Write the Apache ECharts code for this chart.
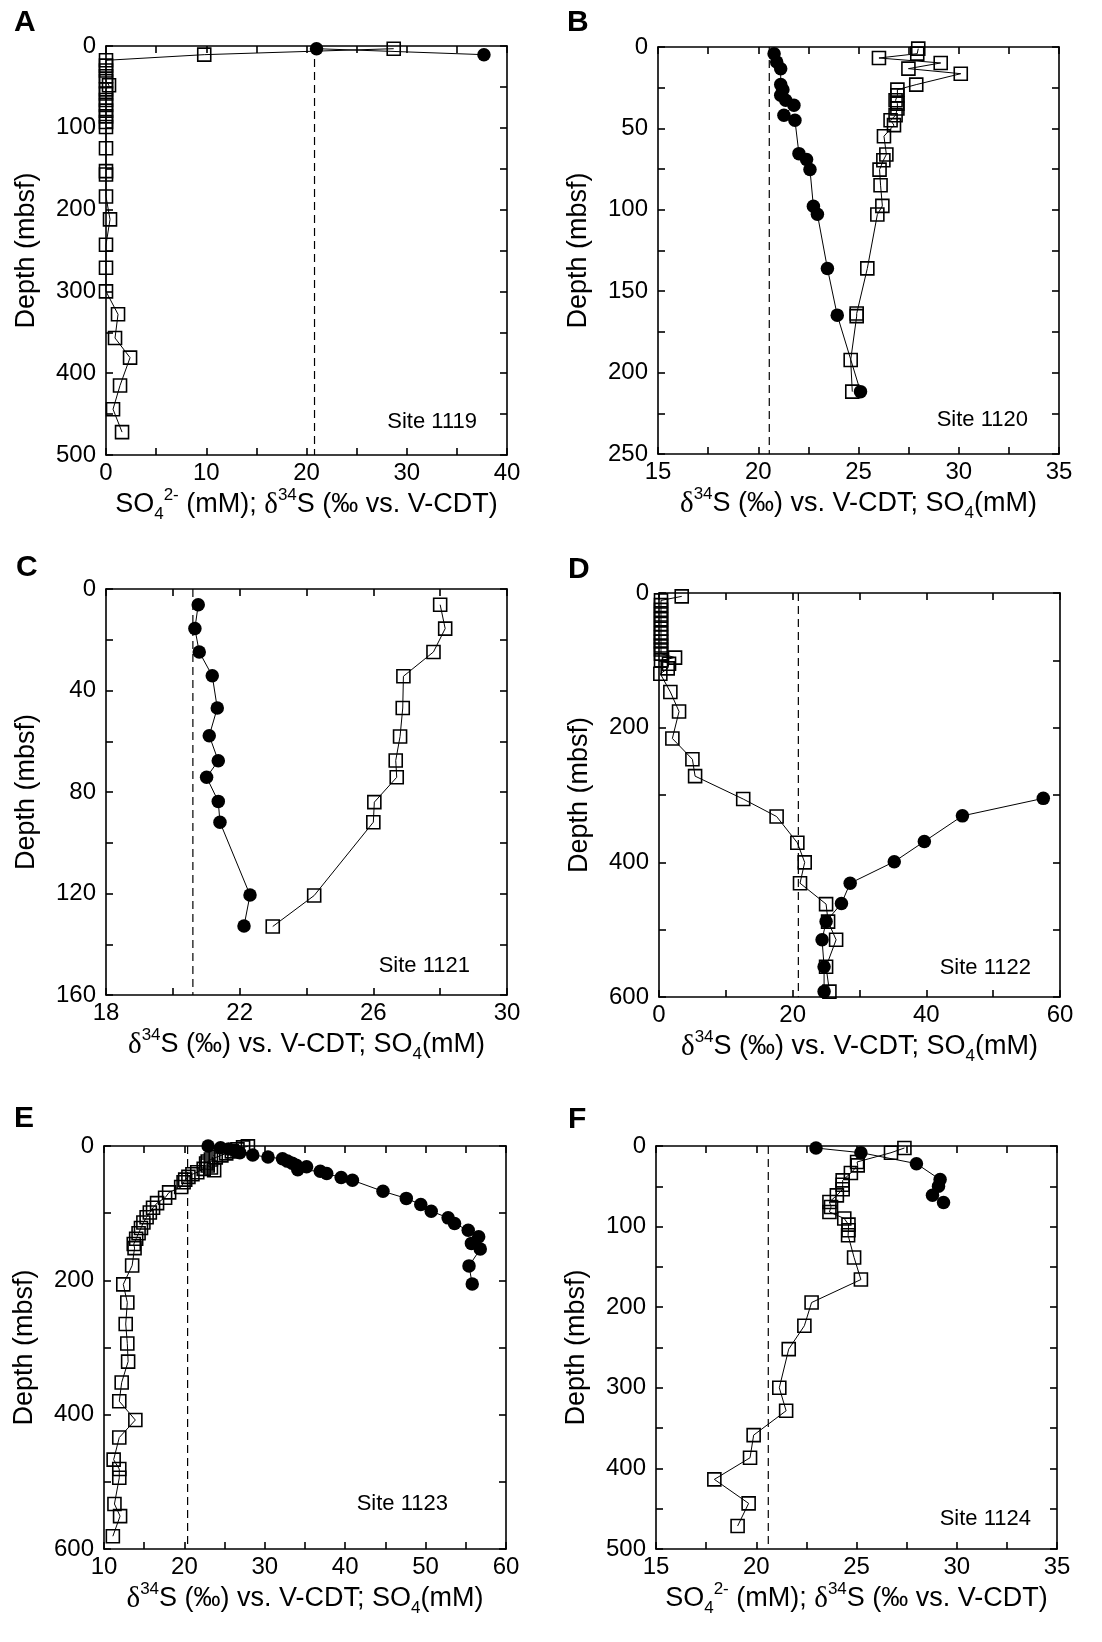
<!DOCTYPE html>
<html><head><meta charset="utf-8">
<script src="https://cdn.jsdelivr.net/npm/echarts@6/dist/echarts.min.js"></script>
<style>html,body{margin:0;padding:0;background:#fff}#c{width:1102px;height:1642px}</style>
</head><body><div id="c"></div><script>
// ---------- DATA (x value, depth mbsf) ----------
// Site 1119 (A)
const squaresA = [[28.7,3.3],[9.8,10.6],[0,17.5],[0,24],[0,30],[0,37],[0,43],[0.3,48],[0,53],[0,58],[0,66],[0,72],[0,79],[0,86],[0,93],[0,99],[0,125],[0,153],[0,157],[0,184],[0.4,212],[0,243],[0,271],[0,300],[1.2,328],[0.9,357],[2.4,381],[1.4,415],[0.7,444],[1.6,472]];
const circlesA = [[21.0,3.3],[37.7,10.6]];
const seawaterA = 20.8;
// Site 1120 (B)
const circlesB = [[20.79,4.1],[20.92,9.2],[21.12,13.3],[21.12,23.1],[21.23,26.2],[21.12,29.7],[21.37,32.7],[21.78,35.8],[21.28,41.9],[21.83,45],[22.03,65.5],[22.41,69.1],[22.58,75.3],[22.75,97.8],[22.95,102.7],[23.45,136],[23.94,164.7],[25.1,211.7]];
const squaresB = [[27.98,1.0],[27.93,4.1],[26.02,6.75],[29.1,9.8],[27.49,13.3],[30.1,16.4],[27.88,23.1],[26.94,26.2],[26.94,29.7],[26.85,32.7],[26.94,34.8],[26.94,37.8],[26.85,41.9],[26.6,45],[26.77,48],[26.27,54.8],[26.39,66],[26.24,69.6],[26.05,75.3],[26.1,84.9],[26.19,97.6],[25.94,102.9],[25.44,136],[24.91,163.7],[24.91,165.3],[24.61,192.3],[24.69,211.7]];
const seawaterB = 20.55;
// Site 1121 (C)
const circlesC = [[20.76,6.2],[20.66,15.6],[20.79,24.8],[21.18,34.2],[21.33,46.9],[21.09,57.8],[21.36,67.7],[21.01,74.2],[21.36,83.7],[21.41,91.9],[22.31,120.6],[22.13,132.8]];
const squaresC = [[28.0,6.2],[28.15,15.6],[27.8,24.8],[26.9,34.4],[26.88,46.9],[26.8,58.1],[26.67,67.6],[26.7,74.2],[26.03,84],[26.0,91.9],[24.23,120.8],[22.99,133]];
const seawaterC = 20.6;
// Site 1122 (D)
const squaresD = [[3.4,5],[0.3,11],[0.3,18],[0.3,25],[0.3,32],[0.3,39],[0.3,46],[0.3,53],[0.3,60],[0.3,66],[0.3,72],[0.3,78],[0.3,84],[0.3,90],[2.4,96],[0.3,100],[1.5,105],[1.3,112],[0.2,120],[1.7,147],[3.0,176],[2.0,216],[5.0,247],[5.4,272],[12.6,306],[17.6,332],[20.7,371],[21.8,400],[21.1,431],[25.0,462],[25.3,488],[26.5,515],[25.0,555],[25.5,592]];
const circlesD = [[57.5,305],[45.4,331],[39.7,369],[35.2,399],[28.6,431],[27.3,461],[25.0,488],[24.4,515],[24.7,555],[24.7,592]];
const seawaterD = 20.85;
// Site 1123 (E)
const squaresE = [[27.9,0.5],[27.3,2],[26.6,5],[25.9,8],[25.2,11],[24.6,14],[23.9,17],[23.3,20],[22.9,23],[22.7,26],[22.9,29],[23.3,32],[23.7,36],[22.4,34],[21.6,39],[21.0,42],[20.5,46],[20.1,50],[19.9,54],[19.6,61],[18.1,69],[17.6,77],[16.6,85],[16.1,92],[15.7,99],[15.3,106],[14.9,114],[14.6,122],[14.3,130],[14.0,138],[13.7,146],[13.8,152],[13.5,178],[12.4,206],[12.9,233],[12.7,265],[12.9,294],[13.0,321],[12.2,352],[11.9,380],[13.9,408],[11.9,434],[11.2,467],[11.9,481],[11.9,494],[11.3,533],[12.0,551],[11.1,581]];
const circlesE = [[22.95,0],[24.5,2.5],[25.5,4.5],[26.4,7],[26.9,10],[28.5,13.5],[30.4,16.5],[32.2,19],[32.8,22.5],[33.4,25.5],[33.9,28.5],[35.2,31],[34.1,35.5],[36.9,37.5],[37.7,41],[39.5,47],[40.9,51],[44.7,67.5],[47.6,78],[49.4,87],[50.7,97],[52.8,107],[53.6,115.5],[55.3,125.5],[56.6,135],[55.7,145],[56.8,153.5],[55.4,178.5],[55.8,205.5]];
const seawaterE = 20.4;
// Site 1124 (F)
const circlesF = [[22.98,2.5],[25.22,8.3],[27.99,21.9],[29.17,41.7],[29.09,50],[28.79,61.2],[29.34,70.2]];
const squaresF = [[27.39,2.5],[26.72,8.3],[25.03,19.8],[25.06,24],[24.72,33.5],[24.31,42.6],[24.31,48],[24.31,53.7],[24.02,61.2],[23.65,69.4],[23.73,75.6],[23.65,81.8],[24.39,90],[24.6,97.5],[24.6,104.5],[24.58,110.7],[24.88,138.4],[25.22,165.7],[22.76,194.2],[22.4,223],[21.62,252],[21.15,300],[21.49,328.5],[19.87,358.7],[19.69,386.8],[17.91,413.6],[19.62,443.4],[19.07,471.5]];
const seawaterF = 20.6;

// axis ranges [min, max, labelled interval]
const xRanges = [[0,40,10],[15,35,5],[18,30,4],[0,60,20],[10,60,10],[15,35,5]];
const yRanges = [[0,500,100],[0,250,50],[0,160,40],[0,600,200],[0,600,200],[0,500,100]];
const panelLetters = ['A','B','C','D','E','F'];
const siteLabels = ['Site 1119','Site 1120','Site 1121','Site 1122','Site 1123','Site 1124'];
const xTitleSO4 = 'SO{sub|4}{sup|2-} (mM); {d|δ}{sup|34}S (‰ vs. V-CDT)';
const xTitleDelta = '{d|δ}{sup|34}S (‰) vs. V-CDT; SO{sub|4}(mM)';
const xTitles = [xTitleSO4, xTitleDelta, xTitleDelta, xTitleDelta, xTitleDelta, xTitleSO4];
const yTitle = 'Depth (mbsf)';

const squareSets = [squaresA, squaresB, squaresC, squaresD, squaresE, squaresF];
const circleSets = [circlesA, circlesB, circlesC, circlesD, circlesE, circlesF];
const seawater = [seawaterA, seawaterB, seawaterC, seawaterD, seawaterE, seawaterF];

// ---------- LAYOUT ----------
const grids = [
  {left:106, top:46, width:401, height:409},
  {left:658, top:47, width:401, height:407},
  {left:106, top:589, width:401, height:406},
  {left:659, top:593, width:401, height:404},
  {left:104, top:1146, width:402, height:403},
  {left:656, top:1146, width:401, height:403}
];
const letterPos = [[14,22.5],[567,23],[16,568],[568,570],[14,1119],[568,1120]];
const sitePos = [[477,421.5],[1028,420],[470,965.5],[1031,967.5],[448,1503.5],[1031,1518.5]];

const FONT = '"Liberation Sans", Arial, Helvetica, sans-serif';
const BLACK = '#000';
const lineW = {color: BLACK, width: 1.6};

const xAxes = [], yAxes = [], series = [], graphics = [];
const richStyles = {
  sup: {fontSize: 17, lineHeight: 17, verticalAlign: 'top', fontFamily: FONT, color: BLACK},
  sub: {fontSize: 17, lineHeight: 17, verticalAlign: 'bottom', fontFamily: FONT, color: BLACK},
  d: {fontSize: 29, lineHeight: 36, fontFamily: '"Liberation Serif", "Times New Roman", serif', color: BLACK}
};

grids.forEach((g, i) => {
  const [xmin, xmax, xint] = xRanges[i];
  const [ymin, ymax, yint] = yRanges[i];
  const common = {
    type: 'value', gridIndex: i,
    axisLine: {show: true, onZero: false, lineStyle: lineW},
    axisTick: {show: true, inside: true, length: 7, lineStyle: lineW},
    minorTick: {show: true, splitNumber: 2, length: 7, lineStyle: lineW},
    splitLine: {show: false}, minorSplitLine: {show: false}
  };
  xAxes.push(Object.assign({}, common, {
    min: xmin, max: xmax, interval: xint, position: 'bottom',
    axisLabel: {fontSize: 24, color: BLACK, fontFamily: FONT, margin: 6},
    name: xTitles[i], nameLocation: 'middle', nameGap: 32,
    nameTextStyle: {fontSize: 27, lineHeight: 36, color: BLACK, fontFamily: FONT, rich: richStyles}
  }));
  xAxes.push(Object.assign({}, common, {
    min: xmin, max: xmax, interval: xint, position: 'top',
    axisLabel: {show: false}
  }));
  yAxes.push(Object.assign({}, common, {
    min: ymin, max: ymax, interval: yint, inverse: true, position: 'left',
    axisLabel: {fontSize: 24, color: BLACK, fontFamily: FONT, margin: 10},
    name: yTitle, nameLocation: 'middle', nameGap: 66, nameRotate: 90,
    nameTextStyle: {fontSize: 27, color: BLACK, fontFamily: FONT}
  }));
  yAxes.push(Object.assign({}, common, {
    min: ymin, max: ymax, interval: yint, inverse: true, position: 'right',
    axisLabel: {show: false}
  }));
  const xi = 2 * i, yi = 2 * i;
  series.push({
    type: 'line', xAxisIndex: xi, yAxisIndex: yi, symbol: 'none', silent: true, z: 1,
    data: [[seawater[i], ymin], [seawater[i], ymax]],
    lineStyle: {color: BLACK, width: 1.2, type: [8, 5]}
  });
  series.push({
    type: 'line', xAxisIndex: xi, yAxisIndex: yi, silent: true, clip: false, z: 3,
    data: squareSets[i], symbol: 'rect', symbolSize: 13,
    itemStyle: {color: 'rgba(0,0,0,0)', borderColor: BLACK, borderWidth: 1.6},
    lineStyle: {color: BLACK, width: 1}
  });
  series.push({
    type: 'line', xAxisIndex: xi, yAxisIndex: yi, silent: true, clip: false, z: 4,
    data: circleSets[i], symbol: 'circle', symbolSize: 13.5,
    itemStyle: {color: BLACK, borderWidth: 0},
    lineStyle: {color: BLACK, width: 1}
  });
  graphics.push({
    type: 'text', x: letterPos[i][0], y: letterPos[i][1], silent: true,
    style: {text: panelLetters[i], fontSize: 30, fontWeight: 'bold', fontFamily: FONT, fill: BLACK, align: 'left', verticalAlign: 'middle'}
  });
  graphics.push({
    type: 'text', x: sitePos[i][0], y: sitePos[i][1], silent: true,
    style: {text: siteLabels[i], fontSize: 22, fontFamily: FONT, fill: BLACK, align: 'right', verticalAlign: 'middle'}
  });
});

const chart = echarts.init(document.getElementById('c'), null, {renderer: 'canvas'});
chart.setOption({
  animation: false,
  backgroundColor: '#fff',
  grid: grids.map(g => Object.assign({containLabel: false}, g)),
  xAxis: xAxes,
  yAxis: yAxes,
  series: series,
  graphic: graphics
});
</script></body></html>
